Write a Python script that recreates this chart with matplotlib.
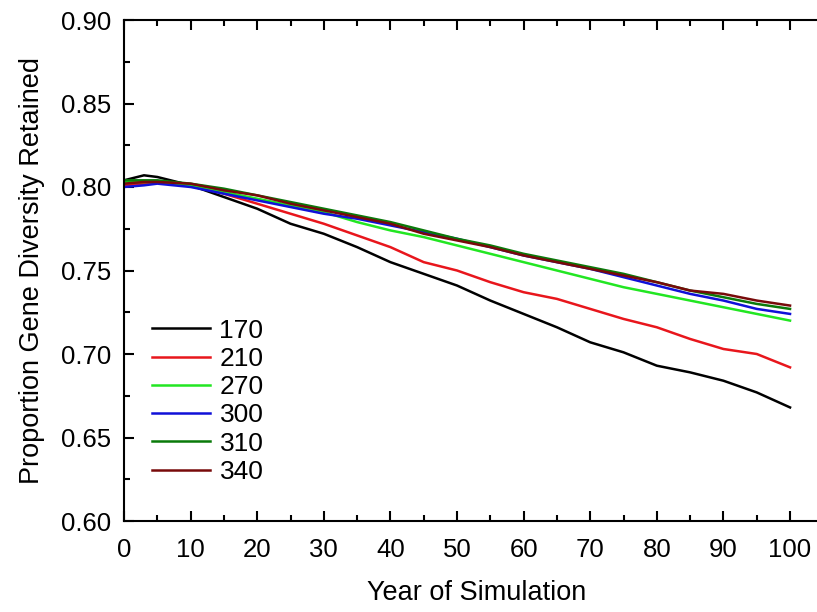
import matplotlib.pyplot as plt

plt.rcParams['font.family'] = ['Liberation Sans', 'DejaVu Sans']

years = [0, 3, 5, 10, 15, 20, 25, 30, 35, 40, 45, 50, 55, 60, 65, 70, 75, 80, 85, 90, 95, 100]
labels = ['170', '210', '270', '300', '310', '340']
colors = ['#000000', '#e8161c', '#22e622', '#1010d8', '#0a7a0a', '#780a0a']

# values (same order as labels)
gd_170 = [0.804, 0.807, 0.806, 0.801, 0.794, 0.787, 0.778, 0.772, 0.764, 0.755, 0.748, 0.741,
          0.732, 0.724, 0.716, 0.707, 0.701, 0.693, 0.689, 0.684, 0.677, 0.668]
gd_210 = [0.801, 0.802, 0.803, 0.801, 0.796, 0.790, 0.784, 0.778, 0.771, 0.764, 0.755, 0.750,
          0.743, 0.737, 0.733, 0.727, 0.721, 0.716, 0.709, 0.703, 0.700, 0.692]
gd_270 = [0.803, 0.803, 0.803, 0.801, 0.797, 0.793, 0.789, 0.785, 0.779, 0.774, 0.770, 0.765,
          0.760, 0.755, 0.750, 0.745, 0.740, 0.736, 0.732, 0.728, 0.724, 0.720]
gd_300 = [0.800, 0.801, 0.802, 0.800, 0.796, 0.792, 0.788, 0.784, 0.781, 0.777, 0.773, 0.769,
          0.764, 0.759, 0.755, 0.751, 0.746, 0.741, 0.736, 0.732, 0.727, 0.724]
gd_310 = [0.804, 0.804, 0.804, 0.802, 0.799, 0.795, 0.791, 0.787, 0.783, 0.779, 0.774, 0.769,
          0.765, 0.760, 0.756, 0.752, 0.748, 0.743, 0.738, 0.734, 0.730, 0.727]
gd_340 = [0.802, 0.803, 0.803, 0.802, 0.798, 0.795, 0.790, 0.786, 0.782, 0.778, 0.772, 0.768,
          0.764, 0.759, 0.755, 0.751, 0.747, 0.743, 0.738, 0.736, 0.732, 0.729]

series = [gd_170, gd_210, gd_270, gd_300, gd_310, gd_340]

fig = plt.figure(figsize=(8.17, 6.12), dpi=100)
# right spine falls just outside the picture, as in the original crop
ax = fig.add_axes([124 / 817, 91 / 612, 706 / 817, 501 / 612])

for vals, lab, col in zip(series, labels, colors):
    ax.plot(years, vals, color=col, lw=1.8, label=lab)

ax.set_xlim(0, 106)
ax.set_ylim(0.60, 0.90)
ax.set_xticks(range(0, 101, 10))
ax.set_xticks(range(5, 101, 10), minor=True)
ax.set_yticks([0.60, 0.65, 0.70, 0.75, 0.80, 0.85, 0.90])
ax.set_yticks([0.625, 0.675, 0.725, 0.775, 0.825, 0.875], minor=True)
ax.set_yticklabels(['0.60', '0.65', '0.70', '0.75', '0.80', '0.85', '0.90'])
ax.tick_params(which='both', direction='in', top=True, right=True, width=1.5, labelsize=18.5)
ax.tick_params(axis='x', pad=12)
ax.tick_params(axis='y', pad=9)
ax.tick_params(which='major', length=7)
ax.tick_params(which='minor', length=4)
for s in ax.spines.values():
    s.set_linewidth(1.5)
ax.spines['right'].set_visible(False)

ax.set_xlabel('Year of Simulation', fontsize=19.5, labelpad=13)
ax.set_ylabel('Proportion Gene Diversity Retained', fontsize=19.5, labelpad=12)

ax.legend(loc='upper left', bbox_to_anchor=(0.025, 0.425), frameon=False, fontsize=19,
          handlelength=2.2, handletextpad=0.35, labelspacing=0.16, borderaxespad=0)

fig.savefig('out.png', dpi=100)
